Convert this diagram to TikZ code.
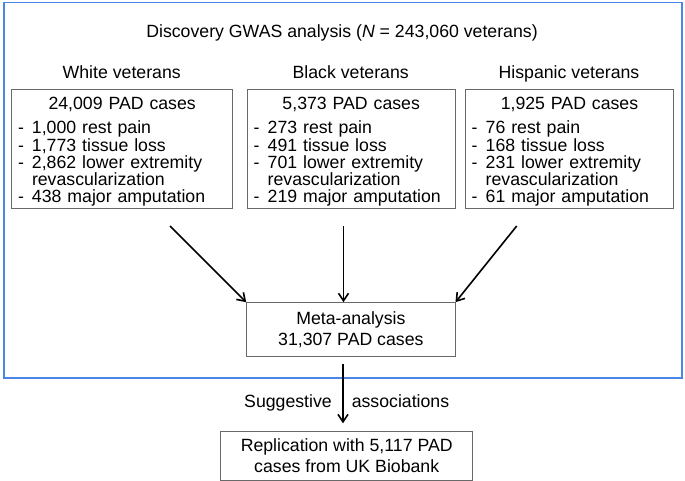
\documentclass[tikz,border=0pt]{standalone}
\usepackage{fontspec}
\setmainfont{Liberation Sans}
\usetikzlibrary{arrows.meta,calc}
\definecolor{frameblue}{RGB}{74,134,232}
\definecolor{boxgray}{RGB}{105,105,105}
\newcommand{\dashitem}[1]{\makebox[14pt][l]{-}#1}
\begin{document}
\begin{tikzpicture}[x=1pt,y=-1pt,
  every node/.style={font=\fontsize{17.7}{17.25}\selectfont, text=black},
  frame/.style={draw=frameblue, line width=1.8pt, inner sep=0pt, anchor=north west},
  groupbox/.style={draw=boxgray, line width=1pt, inner xsep=6.5pt, inner ysep=0pt, align=left, anchor=north west},
  mainbox/.style={draw=boxgray, line width=1pt, align=center, inner sep=0pt, font=\fontsize{17.7}{21.4}\selectfont},
  plain/.style={inner sep=0pt, anchor=base},
  arr/.style={line width=1.6pt, -{Straight Barb[length=7.5pt,width=10pt]}}
]
\useasboundingbox (0,0) rectangle (685,481);

\node[frame, minimum width=678.3pt, minimum height=375.6pt] (disc) at (2.7,1.7) {};

\node[plain] (title) at (342,37.3) {Discovery GWAS analysis (\textit{N} = 243,060 veterans)};

\node[plain] (hw) at (121.7,78.3) {White veterans};
\node[plain] (hb) at (350.7,78.3) {Black veterans};
\node[plain] (hh) at (569,78.3) {Hispanic veterans};

\node[groupbox, text width=208.3pt] (wbox) at (11,89.3) {%
\makebox[\linewidth]{\rule{0pt}{20pt}24,009 PAD cases}\\[6.75pt]
\dashitem{1,000 rest pain}\\
\dashitem{1,773 tissue loss}\\
\dashitem{2,862 lower extremity}\\
\hspace*{14pt}revascularization\\
\dashitem{438 major amputation\rule[-6pt]{0pt}{6pt}}};

\node[groupbox, text width=195pt] (bbox) at (246.7,89.3) {%
\makebox[\linewidth]{\rule{0pt}{20pt}5,373 PAD cases}\\[6.75pt]
\dashitem{273 rest pain}\\
\dashitem{491 tissue loss}\\
\dashitem{701 lower extremity}\\
\hspace*{14pt}revascularization\\
\dashitem{219 major amputation\rule[-6pt]{0pt}{6pt}}};

\node[groupbox, text width=195.6pt] (hbox) at (464.7,89.3) {%
\makebox[\linewidth]{\rule{0pt}{20pt}1,925 PAD cases}\\[6.75pt]
\dashitem{76 rest pain}\\
\dashitem{168 tissue loss}\\
\dashitem{231 lower extremity}\\
\hspace*{14pt}revascularization\\
\dashitem{61 major amputation\rule[-6pt]{0pt}{6pt}}};

\node[mainbox, minimum width=208.3pt, minimum height=54pt] (meta) at (350.85,329.7) {Meta-analysis\\31,307 PAD cases};

\node[mainbox, minimum width=252pt, minimum height=49pt] (rep) at (346.7,455.5) {Replication with 5,117 PAD\\cases from UK Biobank};

\coordinate (wa) at (170,226);
\coordinate (ba) at (343.5,226);
\coordinate (ha) at (516.7,226);
\coordinate (mo) at (343,364);
\coordinate (ri) at (343,423.3);

\draw[arr] (wa) -- (meta.north west);
\draw[arr] (ba) -- (ba |- meta.north);
\draw[arr] (ha) -- (meta.north east);
\draw[arr] (mo) -- (ri)
  node[pos=0.73, anchor=base east, xshift=-10.4pt, inner sep=0pt] {Suggestive}
  node[pos=0.73, anchor=base west, xshift=8pt, inner sep=0pt] {associations};
\end{tikzpicture}
\end{document}
